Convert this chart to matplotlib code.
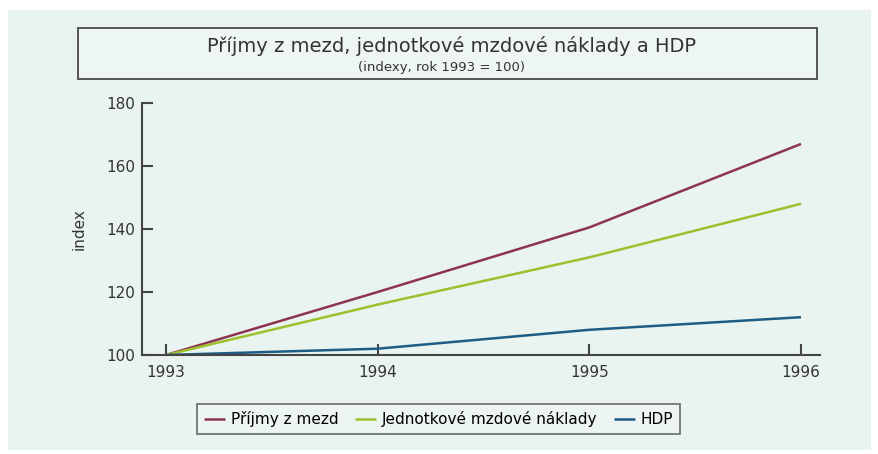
import matplotlib
matplotlib.use("Agg")
import matplotlib.pyplot as plt
from matplotlib.patches import Rectangle

plt.rcParams.update({
    "font.family": ["DejaVu Sans"],
    "font.size": 11,
})

years = [1993, 1994, 1995, 1996]
prijmy = [100, 120, 140.5, 167]
jednotkove = [100, 116, 131, 148]
hdp = [100, 102, 108, 112]

series_labels = ["Příjmy z mezd", "Jednotkové mzdové náklady", "HDP"]
series_colors = ["#8e3352", "#9dc12e", "#1f5c84"]

bg = "#e9f3ef"
axis_col = "#444444"
txt_col = "#333333"

fig = plt.figure(figsize=(8.79, 4.54), dpi=100, facecolor="white")
# pozadí stránky
fig.patches.append(Rectangle((8 / 879, 4 / 454), 863 / 879, 440 / 454,
                             transform=fig.transFigure, facecolor=bg,
                             edgecolor="none", zorder=-10))

# rámeček nadpisu
fig.patches.append(Rectangle((78 / 879, 1 - 79 / 454), 739 / 879, 51 / 454,
                             transform=fig.transFigure, facecolor="#eef6f2",
                             edgecolor="#555555", lw=1.4, zorder=1))
fig.text(452 / 879, 1 - 46 / 454, "Příjmy z mezd, jednotkové mzdové náklady a HDP",
         ha="center", va="center", fontsize=14, color=txt_col, zorder=2)
fig.text(442 / 879, 1 - 68 / 454, "(indexy, rok 1993 = 100)",
         ha="center", va="center", fontsize=9.5, color=txt_col, zorder=2)

ax = fig.add_axes([142 / 879, 1 - 355 / 454, 678 / 879, 252 / 454])
ax.set_facecolor("none")

for vals, lab, col in zip([prijmy, jednotkove, hdp], series_labels, series_colors):
    ax.plot(years, vals, color=col, lw=1.8, label=lab, solid_capstyle="butt")

ax.set_xlim(1993 - 24 / 211.7, 1996 + 19 / 211.7)
ax.set_ylim(100, 180)
ax.set_xticks(years)
ax.set_yticks([100, 120, 140, 160, 180])

for s in ["top", "right"]:
    ax.spines[s].set_visible(False)
for s in ["left", "bottom"]:
    ax.spines[s].set_color(axis_col)
    ax.spines[s].set_linewidth(1.5)

ax.tick_params(axis="both", direction="in", length=8, width=1.5, color=axis_col,
               labelsize=11, labelcolor=txt_col)
ax.tick_params(axis="x", pad=7)
ax.tick_params(axis="y", pad=5)
ax.set_ylabel("index", fontsize=11, color=txt_col, labelpad=14)

handles, labels = ax.get_legend_handles_labels()
leg = fig.legend(handles, labels, ncol=3, loc="upper left",
                 bbox_to_anchor=(197 / 879, 1 - 404 / 454),
                 frameon=True, fancybox=False, fontsize=11, handlelength=1.4,
                 handletextpad=0.35, columnspacing=1.1, borderpad=0.45,
                 borderaxespad=0)
leg.get_frame().set_edgecolor("#555555")
leg.get_frame().set_linewidth(1.3)
leg.get_frame().set_facecolor("#eef6f2")

fig.savefig("out.png", dpi=100, facecolor=fig.get_facecolor())
